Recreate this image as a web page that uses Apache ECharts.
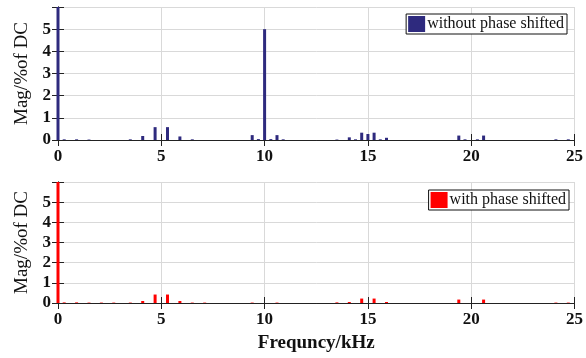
<!DOCTYPE html>
<html>
<head>
<meta charset="utf-8">
<title>Harmonic spectrum</title>
<script src="https://cdn.jsdelivr.net/npm/echarts@6/dist/echarts.min.js"></script>
<style>
  html, body { margin: 0; padding: 0; background: #fff; }
  #chart { width: 586px; height: 358px; }
</style>
</head>
<body>
<div id="chart"></div>
<script>
// Harmonic spectra (magnitude as % of DC), frequency in kHz
const freqWithout = [0, 0.3, 0.9, 1.5, 3.5, 4.1, 4.7, 5.3, 5.9, 6.5, 9.4, 9.7, 10.0, 10.3, 10.6, 10.9,
                     13.5, 14.1, 14.4, 14.7, 15.0, 15.3, 15.6, 15.9, 19.4, 19.7, 20.3, 20.6, 24.1, 24.7];
const magWithout  = [100, 0.03, 0.03, 0.02, 0.03, 0.18, 0.58, 0.58, 0.16, 0.03, 0.22, 0.04, 5.0, 0.04, 0.22, 0.03,
                     0.02, 0.12, 0.03, 0.33, 0.27, 0.33, 0.03, 0.10, 0.20, 0.03, 0.03, 0.20, 0.03, 0.03];

const freqWith = [0, 0.3, 0.9, 1.5, 2.1, 2.7, 3.5, 4.1, 4.7, 5.3, 5.9, 6.5, 7.1, 9.4, 10.6,
                  13.5, 14.1, 14.7, 15.3, 15.9, 19.4, 20.6, 24.1, 24.7];
const magWith  = [100, 0.03, 0.03, 0.02, 0.02, 0.02, 0.02, 0.10, 0.42, 0.42, 0.10, 0.02, 0.02, 0.02, 0.02,
                  0.03, 0.05, 0.22, 0.22, 0.05, 0.17, 0.17, 0.02, 0.02];

const yTicks = [0, 1, 2, 3, 4, 5];

const NAVY = '#2e2a7e';
const RED = '#ff0000';
const GRID_GRAY = '#d9d9d9';
const SERIF = 'Liberation Serif';

const pairs = (xs, ys) => xs.map((x, i) => [x, ys[i]]);

// fresh style objects per axis (shared objects get mutated during option merge)
function tickStyle() { return { show: true, inside: true, length: 6, lineStyle: { color: '#222', width: 1 } }; }
function axisLineStyle() { return { show: true, lineStyle: { color: '#222', width: 1 } }; }
function gridLine() { return { show: true, lineStyle: { color: GRID_GRAY, width: 1 } }; }
function tickLabel(extra) { return Object.assign({ fontFamily: SERIF, fontSize: 17, fontWeight: 'bold', color: '#111' }, extra); }

function xAxes(gridIndex, withName) {
  return [
    {
      type: 'value', gridIndex, position: 'bottom', min: 0, max: 25, interval: 5,
      axisLine: axisLineStyle(), axisTick: tickStyle(), splitLine: gridLine(),
      axisLabel: tickLabel({ margin: 8 }),
      name: withName ? 'Frequncy/kHz' : '', nameLocation: 'middle', nameGap: 31,
      nameTextStyle: { fontFamily: SERIF, fontSize: 19, fontWeight: 'bold', color: '#111' }
    },
    {
      type: 'value', gridIndex, position: 'top', min: 0, max: 25, interval: 5,
      axisLine: axisLineStyle(), axisTick: tickStyle(), splitLine: { show: false }, axisLabel: { show: false }
    }
  ];
}

function yAxes(gridIndex) {
  return [
    {
      type: 'value', gridIndex, position: 'left', min: 0, max: 6, interval: 1,
      axisLine: axisLineStyle(), axisTick: tickStyle(), splitLine: gridLine(),
      axisLabel: tickLabel({ margin: 7, formatter: v => yTicks.includes(v) ? String(v) : '' }),
      name: 'Mag/%of DC', nameLocation: 'middle', nameGap: 26,
      nameTextStyle: { fontFamily: SERIF, fontSize: 19, color: '#111' }
    },
    {
      type: 'value', gridIndex, position: 'right', min: 0, max: 6, interval: 1,
      axisLine: axisLineStyle(), axisTick: tickStyle(), splitLine: { show: false }, axisLabel: { show: false }
    }
  ];
}

function legend(name, right, top) {
  return {
    data: [name], right, top,
    orient: 'vertical', icon: 'rect', itemWidth: 17, itemHeight: 16,
    backgroundColor: '#fff', borderColor: '#111', borderWidth: 1, padding: [2, 3, 2, 2],
    textStyle: { fontFamily: SERIF, fontSize: 16, color: '#111', padding: [0, 0, 0, -3] }
  };
}

const chart = echarts.init(document.getElementById('chart'), null, { renderer: 'canvas' });
chart.setOption({
  animation: false,
  backgroundColor: '#fff',
  grid: [
    { left: 58, right: 10, top: 7, height: 133 },
    { left: 58, right: 10, top: 182, height: 121 }
  ],
  xAxis: [...xAxes(0, false), ...xAxes(1, true)],
  yAxis: [...yAxes(0), ...yAxes(1)],
  legend: [legend('without phase shifted', 19, 14), legend('with phase shifted', 17, 190)],
  series: [
    {
      name: 'without phase shifted', type: 'bar', xAxisIndex: 0, yAxisIndex: 0,
      barWidth: 3, clip: true, itemStyle: { color: NAVY },
      data: pairs(freqWithout, magWithout)
    },
    {
      name: 'with phase shifted', type: 'bar', xAxisIndex: 2, yAxisIndex: 2,
      barWidth: 3, clip: true, itemStyle: { color: RED },
      data: pairs(freqWith, magWith)
    }
  ]
});
</script>
</body>
</html>
